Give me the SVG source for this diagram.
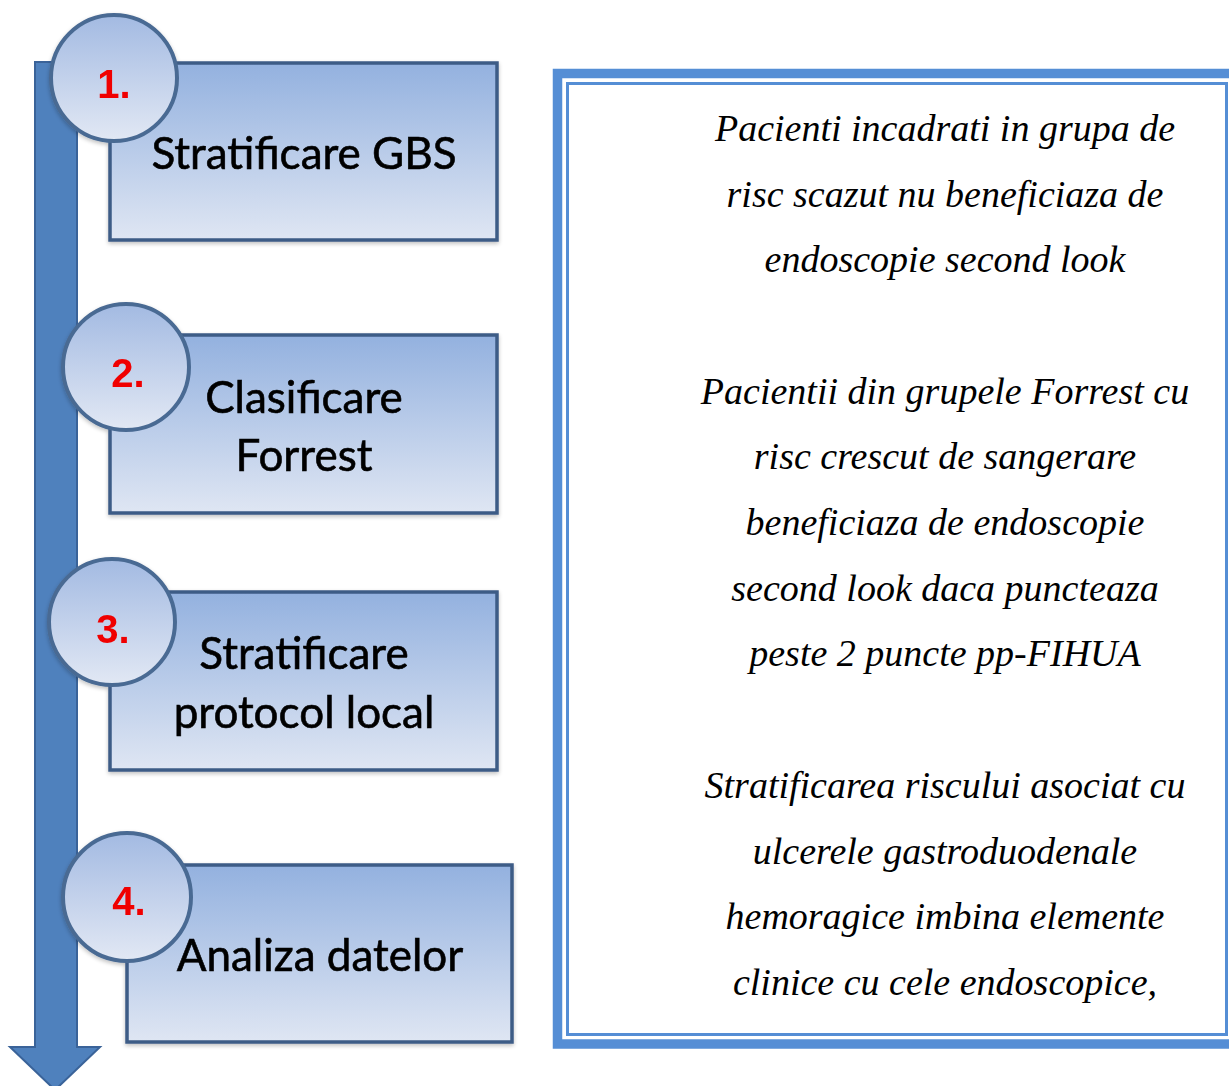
<svg xmlns="http://www.w3.org/2000/svg" width="1229" height="1086" viewBox="0 0 1229 1086">
<defs>
<linearGradient id="boxGrad" x1="0" y1="0" x2="0" y2="1">
<stop offset="0" stop-color="#93b1df"/>
<stop offset="1" stop-color="#dfe6f3"/>
</linearGradient>
<linearGradient id="circGrad" x1="0" y1="0" x2="0" y2="1">
<stop offset="0" stop-color="#a3bae2"/>
<stop offset="1" stop-color="#e2e8f4"/>
</linearGradient>
<filter id="shadow" x="-10%" y="-10%" width="120%" height="130%">
<feGaussianBlur in="SourceAlpha" stdDeviation="2"/>
<feOffset dx="0" dy="2" result="b"/>
<feComponentTransfer><feFuncA type="linear" slope="0.25"/></feComponentTransfer>
<feMerge><feMergeNode/><feMergeNode in="SourceGraphic"/></feMerge>
</filter>
</defs>
<style>
.box{fill:url(#boxGrad);stroke:#3d5b86;stroke-width:3.5}
.circ{fill:url(#circGrad);stroke:#4a6a93;stroke-width:4}
.num{font-family:"Liberation Sans",Arial,sans-serif;font-weight:bold;font-size:40px;fill:#f00000;text-anchor:middle}
.lbl{font-family:Lato,"Open Sans",sans-serif;font-size:44px;fill:#000;stroke:#000;stroke-width:0.6;text-anchor:middle}
.note{font-family:"Liberation Serif","Times New Roman",serif;font-style:italic;font-size:38px;fill:#000;text-anchor:middle}
.arrow{fill:#4f81bd;stroke:#3a6399;stroke-width:2}
</style>
<rect width="1229" height="1086" fill="#ffffff"/>
<g id="connectors">
<path class="arrow" d="M35,62 H77 V1047 H100 L55,1090 L10,1047 H35 Z"/>
</g>
<g id="step1" filter="url(#shadow)">
<rect class="box" x="110" y="63" width="387" height="177"/>
<circle class="circ" cx="114" cy="78" r="63"/>
<text class="num" x="114" y="98">1.</text>
<text class="lbl" x="304" y="169">Stratificare GBS</text>
</g>
<g id="step2" filter="url(#shadow)">
<rect class="box" x="110" y="335" width="387" height="178"/>
<circle class="circ" cx="126" cy="367" r="63"/>
<text class="num" x="128" y="387">2.</text>
<text class="lbl" x="304" y="413">Clasificare</text>
<text class="lbl" x="304" y="471">Forrest</text>
</g>
<g id="step3" filter="url(#shadow)">
<rect class="box" x="110" y="592" width="387" height="178"/>
<circle class="circ" cx="112" cy="622" r="63"/>
<text class="num" x="113" y="643">3.</text>
<text class="lbl" x="304" y="669">Stratificare</text>
<text class="lbl" x="304" y="728">protocol local</text>
</g>
<g id="step4" filter="url(#shadow)">
<rect class="box" x="127" y="865" width="385" height="177"/>
<circle class="circ" cx="127" cy="897" r="64"/>
<text class="num" x="129" y="915">4.</text>
<text class="lbl" x="320" y="971">Analiza datelor</text>
</g>
<g id="notes">
<rect x="557.5" y="73.5" width="680" height="970.5" fill="none" stroke="#558ed5" stroke-width="9.5"/>
<rect x="567.5" y="83.5" width="659" height="951" fill="none" stroke="#558ed5" stroke-width="3"/>
<text class="note" x="945" y="141">Pacienti incadrati in grupa de</text>
<text class="note" x="945" y="207">risc scazut nu beneficiaza de</text>
<text class="note" x="945" y="272">endoscopie second look</text>
<text class="note" x="945" y="404">Pacientii din grupele Forrest cu</text>
<text class="note" x="945" y="469">risc crescut de sangerare</text>
<text class="note" x="945" y="535">beneficiaza de endoscopie</text>
<text class="note" x="945" y="601">second look daca puncteaza</text>
<text class="note" x="945" y="666">peste 2 puncte pp-FIHUA</text>
<text class="note" x="945" y="798">Stratificarea riscului asociat cu</text>
<text class="note" x="945" y="864">ulcerele gastroduodenale</text>
<text class="note" x="945" y="929">hemoragice imbina elemente</text>
<text class="note" x="945" y="995">clinice cu cele endoscopice,</text>
</g>
</svg>
